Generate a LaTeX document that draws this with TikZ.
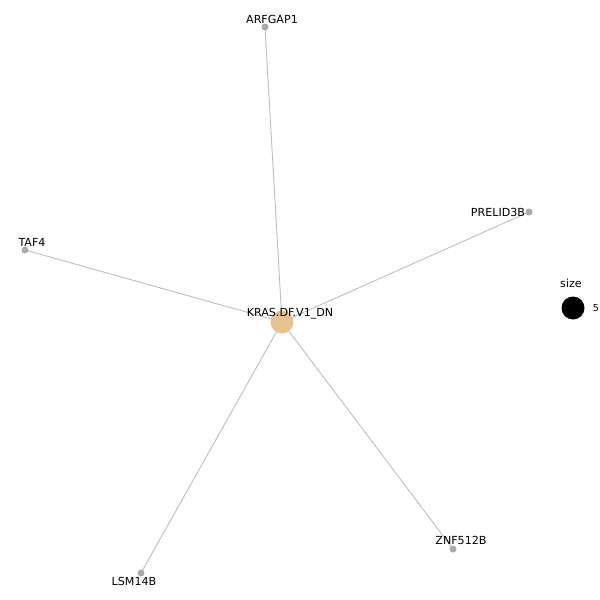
\documentclass[tikz,border=0pt]{standalone}
\usepackage{fontspec}
\setmainfont{DejaVu Sans}
\usetikzlibrary{backgrounds}
\begin{document}
\begin{tikzpicture}[x=1pt,y=-1pt,
  leaf/.style={circle,fill=leafgray,draw=none,minimum size=7pt,inner sep=0pt},
  hub/.style={circle,fill=hubtan,draw=none,minimum size=23pt,inner sep=0pt},
  lbl/.style={font=\fontsize{11.1pt}{12pt}\selectfont,inner sep=0pt,anchor=center},
  edge/.style={draw=edgegray,line width=0.9pt}]
\definecolor{leafgray}{RGB}{170,170,170}
\definecolor{hubtan}{RGB}{229,194,142}
\definecolor{edgegray}{RGB}{190,190,190}
\node[hub] (c) at (282,322) {};
\node[leaf] (arf) at (265,27) {};
\node[leaf] (pre) at (529,212) {};
\node[leaf] (taf) at (25,250) {};
\node[leaf] (lsm) at (141,573) {};
\node[leaf] (znf) at (453,549) {};
\begin{scope}[on background layer]
\fill[white] (0,0) rectangle (600,600);
\path[edge] (c.center) -- (arf.center);
\path[edge] (c.center) -- (pre.center);
\path[edge] (c.center) -- (taf.center);
\path[edge] (c.center) -- (lsm.center);
\path[edge] (c.center) -- (znf.center);
\end{scope}
\node[lbl] (lc) at (290,314) {KRAS.DF.V1\_DN};
\node[lbl] (larf) at (272,19) {ARFGAP1};
\node[lbl] (lpre) at (498,212) {PRELID3B};
\node[lbl] (ltaf) at (32,242) {TAF4};
\node[lbl] (llsm) at (134,581) {LSM14B};
\node[lbl] (lznf) at (461,540) {ZNF512B};
\node[lbl] (lsize) at (571,283) {size};
\node[circle,fill=black,minimum size=23pt,inner sep=0pt] (legc) at (573,308) {};
\node[lbl,font=\fontsize{9.5pt}{11pt}\selectfont] (lfive) at (596,308) {5};
\useasboundingbox (0,0) rectangle (600,600);
\end{tikzpicture}
\end{document}
